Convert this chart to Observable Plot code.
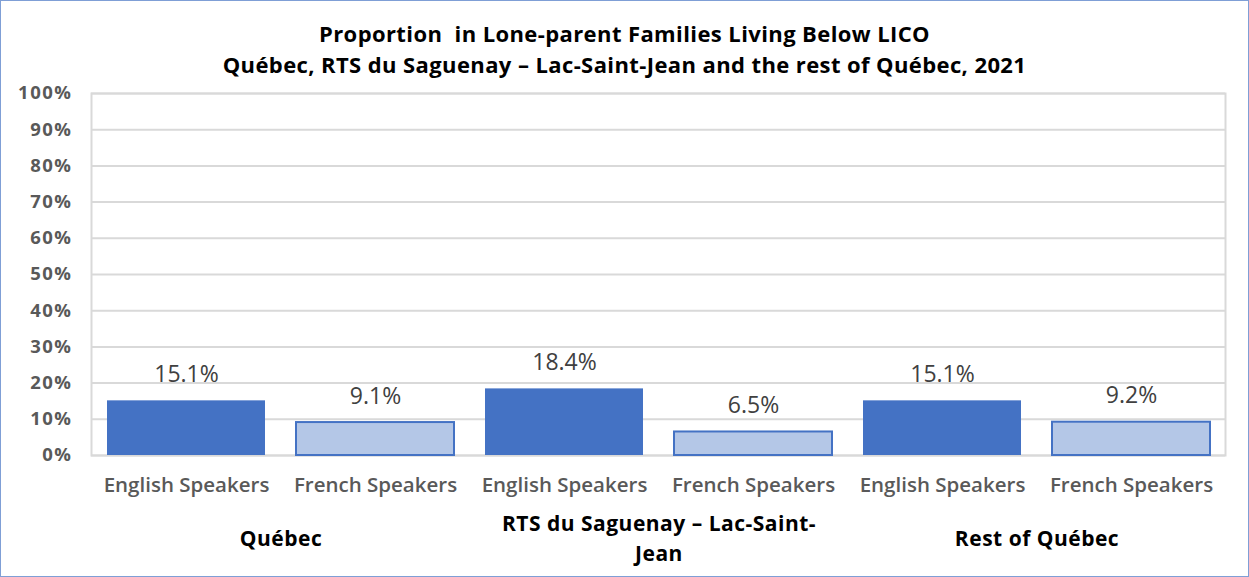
<!DOCTYPE html>
<html>
<head>
<meta charset="utf-8">
<script src="https://cdn.jsdelivr.net/npm/d3@7"></script>
<script src="https://cdn.jsdelivr.net/npm/@observablehq/plot@0.6"></script>
<style>
  html, body { margin: 0; padding: 0; background: #fff; }
  #wrap { position: absolute; left: 0; top: 0; width: 1247px; height: 575px; border: 1px solid #7f9fd6; background: #fff; overflow: hidden; font-family: "Open Sans", sans-serif; }
  #title { height: 77px; box-sizing: border-box; padding-top: 17px; text-align: center; font-weight: bold; font-size: 22px; letter-spacing: 0.4px; line-height: 31px; color: #000; }
  #chart svg { display: block; }
</style>
</head>
<body>
<div id="wrap">
  <div id="title">Proportion&nbsp; in Lone-parent Families Living Below LICO<br>Québec, RTS du Saguenay – Lac-Saint-Jean and the rest of Québec, 2021</div>
  <div id="chart"></div>
</div>
<script>
const groups = ["Québec", "RTS du Saguenay – Lac-Saint-Jean", "Rest of Québec"];
const groupLabels = ["Québec", "RTS du Saguenay – Lac-Saint-\nJean", "Rest of Québec"];
const languages = ["English Speakers", "French Speakers"];
const englishValues = [15.1, 18.4, 15.1];
const frenchValues = [9.1, 6.5, 9.2];
const yTicks = [0, 10, 20, 30, 40, 50, 60, 70, 80, 90, 100];

const rows = [];
groups.forEach((g, i) => {
  rows.push({group: g, language: languages[0], value: englishValues[i], key: g + "|" + languages[0]});
  rows.push({group: g, language: languages[1], value: frenchValues[i], key: g + "|" + languages[1]});
});
const keys = rows.map(d => d.key);
const groupRows = groups.map((g, i) => ({label: groupLabels[i], key: g + "|" + languages[0]}));

const W = 1247, H = 497, ML = 90, MR = 23, MT = 15, MB = 120;
const step = (W - ML - MR) / keys.length;

const chart = Plot.plot({
  width: W, height: H,
  marginLeft: ML, marginRight: MR, marginTop: MT, marginBottom: MB,
  style: {fontFamily: "'Open Sans', sans-serif", background: "#fff"},
  x: {domain: keys, paddingInner: 0.165, paddingOuter: 0.0825, axis: null, label: null},
  y: {domain: [0, 100], axis: null, label: null},
  color: {domain: languages, range: ["#4472C4", "#B4C7E7"]},
  marks: [
    Plot.gridY(yTicks, {stroke: "#d9d9d9", strokeOpacity: 1, strokeWidth: 2}),
    Plot.frame({stroke: "#d9d9d9", strokeWidth: 2}),
    Plot.axisY({ticks: yTicks, label: null, tickSize: 0, tickPadding: 19, tickFormat: d => d + "%", fontSize: 18.5, fontWeight: "bold", fill: "#595959", color: "#595959"}),
    Plot.barY(rows, {x: "key", y: "value", fill: "language", stroke: d => d.language === languages[1] ? "#4472C4" : "none", strokeWidth: 2}),
    Plot.text(rows, {x: "key", y: "value", text: d => d.value.toFixed(1) + "%", lineAnchor: "bottom", dy: -19, fontSize: 23, fill: "#404040"}),
    Plot.axisX({label: null, tickSize: 0, tickPadding: 22, tickFormat: d => d.split("|")[1], fontSize: 20.5, fontWeight: 600, fill: "#595959", color: "#595959"}),
    Plot.text(groupRows, {x: "key", text: "label", frameAnchor: "bottom", lineAnchor: "middle", dy: 81, dx: step / 2, fontSize: 21, fontWeight: "bold", fill: "#000", lineHeight: 1.45, ariaDescription: "group-label"})
  ]
});
d3.select(chart).selectAll('g[aria-label="y-axis tick label"] text').style("letter-spacing", "1.5px");
d3.select(chart).selectAll('g[aria-description="group-label"] text').style("letter-spacing", "0.5px");
document.getElementById("chart").appendChild(chart);
</script>
</body>
</html>
